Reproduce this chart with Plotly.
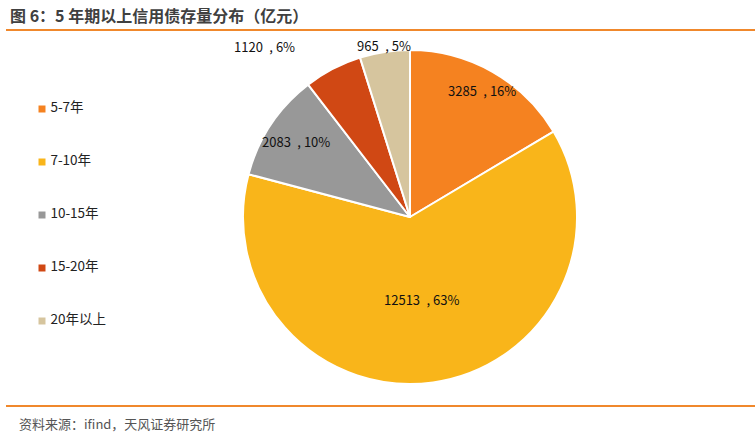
import math
import plotly.graph_objects as go

categories = ["5-7年", "7-10年", "10-15年", "15-20年", "20年以上"]
values = [3285, 12513, 2083, 1120, 965]
percents = ["16%", "63%", "10%", "6%", "5%"]
colors = ["#F58220", "#F9B51A", "#989898", "#D04814", "#D6C59E"]

# label style: radial factor and angle offset (degrees)
label_radius = [0.87, 0.5, 0.82, 1.34, 1.04]
label_angle_offset = [0, 0, 0, -13, 0]

W, H = 755, 436
cx, cy, R = 410, 217, 167
FONT = "Noto Sans CJK SC, Microsoft YaHei, sans-serif"

fig = go.Figure()
fig.add_trace(go.Pie(
    labels=categories, values=values, sort=False, direction="clockwise", rotation=0,
    marker=dict(colors=colors, line=dict(color="white", width=2)),
    textinfo="none", hoverinfo="label+value+percent", showlegend=False,
    domain=dict(x=[(cx - R) / W, (cx + R) / W], y=[1 - (cy + R) / H, 1 - (cy - R) / H]),
))

# labels from data angles
total = sum(values)
cum = 0
annotations = []
for i, v in enumerate(values):
    mid = (cum + v / 2) / total * 360 + label_angle_offset[i]
    cum += v
    r = R * label_radius[i]
    xp = cx + r * math.sin(math.radians(mid))
    yp = cy - r * math.cos(math.radians(mid))
    annotations.append(dict(
        x=xp / W, y=1 - yp / H, xref="paper", yref="paper", showarrow=False,
        text=f"{v}\u2002,\u00a0{percents[i]}", font=dict(family=FONT, size=13, color="#111"),
        xanchor="center", yanchor="middle"))

# legend built from a scatter on hidden axes
fig.add_trace(go.Scatter(
    x=[42] * len(categories), y=list(range(len(categories))), mode="markers+text",
    marker=dict(symbol="square", size=7, color=colors),
    text=["\u00a0" + c for c in categories], textposition="middle right",
    textfont=dict(family=FONT, size=13.5, color="#222"),
    showlegend=False, hoverinfo="skip", cliponaxis=False,
))

annotations.append(dict(
    x=8 / W, y=1 - 15 / H, xref="paper", yref="paper", showarrow=False,
    text="<b>图\u00a06：5\u00a0年期以上信用债存量分布（亿元）</b>", xanchor="left", yanchor="middle",
    font=dict(family=FONT, size=16, color="#404040")))
annotations.append(dict(
    x=17 / W, y=1 - 423 / H, xref="paper", yref="paper", showarrow=False,
    text="资料来源：ifind，天风证券研究所", xanchor="left", yanchor="middle",
    font=dict(family=FONT, size=13, color="#555")))

shapes = [
    dict(type="line", xref="paper", yref="paper", x0=6 / W, x1=1, y0=1 - 30 / H, y1=1 - 30 / H,
         line=dict(color="#F0882C", width=2)),
    dict(type="line", xref="paper", yref="paper", x0=6 / W, x1=1, y0=1 - 406 / H, y1=1 - 406 / H,
         line=dict(color="#F0882C", width=2)),
]

fig.update_layout(
    width=W, height=H, margin=dict(l=0, r=0, t=0, b=0),
    paper_bgcolor="white", plot_bgcolor="rgba(0,0,0,0)",
    xaxis=dict(range=[0, W], visible=False, fixedrange=True),
    yaxis=dict(range=[(H - 109) / 53, -109 / 53], visible=False, fixedrange=True),
    annotations=annotations, shapes=shapes, showlegend=False,
)

fig.write_html("out.html", config={"displayModeBar": False},
               post_script="document.body.style.margin='0';document.body.style.overflow='hidden';")
